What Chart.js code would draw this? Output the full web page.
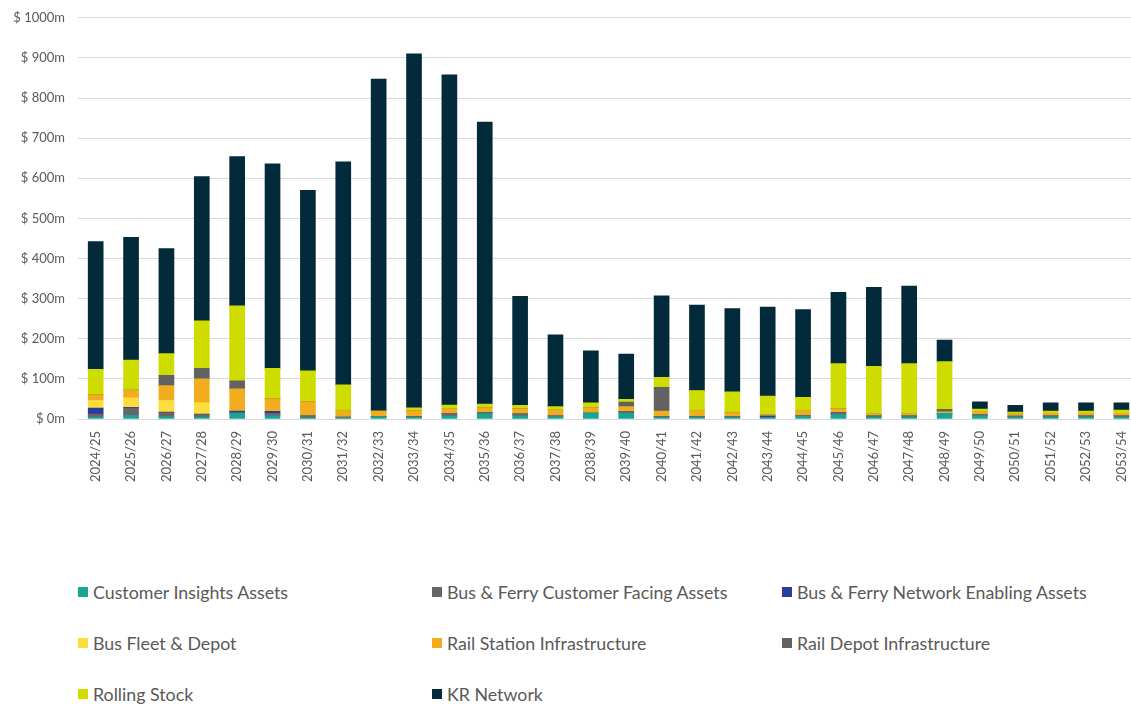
<!DOCTYPE html>
<html>
<head>
<meta charset="utf-8">
<script src="https://cdn.jsdelivr.net/npm/chart.js@4"></script>
<style>
  html, body { margin: 0; padding: 0; background: #fff; overflow: hidden; width: 1131px; height: 704px; }
  #wrap { position: relative; width: 1131px; height: 704px; }
  #chart { position: absolute; left: 0; top: -3px; }
  #legend {
    position: absolute; left: 78px; top: 566px;
    display: grid; grid-template-columns: 354px 350px 350px; grid-auto-rows: 51px;
    font-family: Lato, "Open Sans", sans-serif; font-size: 17.8px; color: #595959;
  }
  #legend .item { display: flex; align-items: center; white-space: nowrap; }
  #legend .sw { width: 10px; height: 10px; margin-right: 5px; flex: none; }
</style>
</head>
<body>
<div id="wrap">
  <canvas id="chart" width="1141" height="503"></canvas>
  <div id="legend"></div>
</div>
<script>
const years = ['2024/25','2025/26','2026/27','2027/28','2028/29','2029/30','2030/31','2031/32','2032/33','2033/34',
  '2034/35','2035/36','2036/37','2037/38','2038/39','2039/40','2040/41','2041/42','2042/43','2043/44',
  '2044/45','2045/46','2046/47','2047/48','2048/49','2049/50','2050/51','2051/52','2052/53','2053/54'];

// $m per year, stacked bottom to top
const customerInsights = [5,9,6,5,14,8,3,3,6,4,7,13,8,6,15,14,4,4,4,3,7,11,5,5,14,8,5,5,5,5];
const busFerryCustomer = [7,18,10,6,2,6,5,2,0,2,7,3,5,2,0,5,2,2,2,1,2,5,3,3,0,3,2,3,3,3];
const busFerryNetwork  = [15,2,1,1,4,5,0,0,0,0,0,0,0,0,0,0,0,0,0,4,0,0,0,0,0,0,0,0,0,0];
const busFleetDepot    = [19,24,29,29,0,0,0,0,0,0,0,0,0,0,0,0,0,0,0,0,0,0,0,0,0,0,0,0,0,0];
const railStation      = [14,19,37,59,55,31,35,15,14,15,11,12,13,14,13,12,14,14,10,3,11,10,4,4,4,6,5,6,6,6];
const railDepot        = [0,0,26,26,20,0,0,0,0,0,0,0,0,0,0,11,59,0,0,0,0,0,0,0,6,0,0,0,0,0];
const rollingStock     = [64,75,54,119,187,76,77,65,0,7,10,9,8,9,12,7,25,51,52,46,34,112,119,126,119,8,5,6,6,8];
const krNetwork        = [318,306,262,359,372,510,450,556,827,882,823,703,272,179,130,113,203,213,207,222,219,178,197,193,54,18,17,20,20,18];

const yTicks = [0,100,200,300,400,500,600,700,800,900,1000];

const series = [
  { label: 'Customer Insights Assets', data: customerInsights, color: '#17a596' },
  { label: 'Bus & Ferry Customer Facing Assets', data: busFerryCustomer, color: '#666666' },
  { label: 'Bus & Ferry Network Enabling Assets', data: busFerryNetwork, color: '#2a3d9c' },
  { label: 'Bus Fleet & Depot', data: busFleetDepot, color: '#fbdd3c' },
  { label: 'Rail Station Infrastructure', data: railStation, color: '#f2ad1e' },
  { label: 'Rail Depot Infrastructure', data: railDepot, color: '#626262' },
  { label: 'Rolling Stock', data: rollingStock, color: '#cedc00' },
  { label: 'KR Network', data: krNetwork, color: '#022a3a' },
];

const font = 'Lato, "Open Sans", sans-serif';

const chart = new Chart(document.getElementById('chart'), {
  type: 'bar',
  data: {
    labels: years,
    datasets: series.map(s => ({
      label: s.label,
      data: s.data,
      backgroundColor: s.color,
      borderWidth: 0,
      barThickness: 15,
    })),
  },
  options: {
    responsive: false,
    animation: false,
    layout: { padding: { top: 10, left: 0, right: 0, bottom: 0 } },
    plugins: {
      legend: { display: false },
      tooltip: { enabled: false },
    },
    scales: {
      x: {
        stacked: true,
        grid: { display: false },
        border: { display: false },
        ticks: {
          minRotation: 90,
          maxRotation: 90,
          color: '#595959',
          font: { family: font, size: 13 },
          padding: 4,
        },
        afterFit: (scale) => { scale.height = 81; },
      },
      y: {
        stacked: true,
        min: 0,
        max: 1000,
        afterBuildTicks: (scale) => { scale.ticks = yTicks.map(v => ({ value: v })); },
        grid: { color: '#d9d9d9', lineWidth: 1, drawTicks: false },
        border: { display: false },
        ticks: {
          color: '#595959',
          font: { family: font, size: 13 },
          padding: 13,
          callback: (v) => '$ ' + v + 'm',
        },
        afterFit: (scale) => { scale.width = 78; },
      },
    },
  },
});

// legend in a 3 column grid like the original
const legendEl = document.getElementById('legend');
chart.data.datasets.forEach(ds => {
  const item = document.createElement('div');
  item.className = 'item';
  const sw = document.createElement('span');
  sw.className = 'sw';
  sw.style.background = ds.backgroundColor;
  const txt = document.createElement('span');
  txt.textContent = ds.label;
  item.appendChild(sw);
  item.appendChild(txt);
  legendEl.appendChild(item);
});
</script>
</body>
</html>
